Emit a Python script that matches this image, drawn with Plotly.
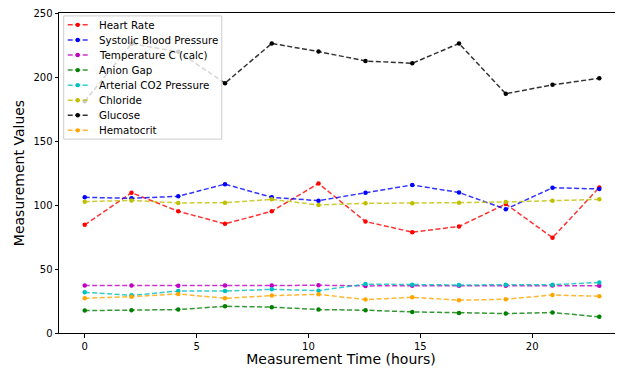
import plotly.graph_objects as go

time_hours = [0, 2.09, 4.18, 6.27, 8.36, 10.45, 12.55, 14.64, 16.73, 18.82, 20.91, 23]

heart_rate = [84.5, 109.6, 95.1, 85.3, 95.1, 116.8, 87.1, 78.8, 83.2, 100.8, 74.5, 113.7]
systolic_bp = [106.0, 105.2, 106.8, 116.3, 106.0, 103.4, 109.6, 115.6, 109.8, 96.7, 113.5, 112.5]
temperature_c = [37.2, 37.1, 37.0, 37.1, 37.1, 37.3, 36.8, 37.0, 36.9, 37.0, 37.1, 37.0]
anion_gap = [17.5, 17.8, 18.3, 20.9, 20.2, 18.3, 17.8, 16.5, 15.7, 15.2, 16.0, 12.6]
arterial_co2 = [31.8, 29.4, 32.8, 32.8, 34.1, 33.1, 38.2, 37.7, 37.5, 37.7, 37.7, 39.5]
chloride = [102.6, 103.6, 101.6, 101.8, 104.4, 100.0, 101.3, 101.3, 101.8, 102.4, 103.4, 104.4]
glucose = [181.0, 226.0, 219.8, 195.2, 226.2, 219.9, 212.5, 210.7, 226.2, 186.9, 193.9, 199.0]
hematocrit = [27.1, 28.4, 30.5, 27.1, 29.2, 30.2, 26.1, 27.9, 25.6, 26.4, 29.7, 28.7]

series_names = ["Heart Rate", "Systolic Blood Pressure", "Temperature C (calc)", "Anion Gap",
                "Arterial CO2 Pressure", "Chloride", "Glucose", "Hematocrit"]
series_values = [heart_rate, systolic_bp, temperature_c, anion_gap,
                 arterial_co2, chloride, glucose, hematocrit]
series_colors = [(255, 0, 0), (0, 0, 255), (191, 0, 191), (0, 128, 0),
                 (0, 191, 191), (191, 191, 0), (0, 0, 0), (255, 165, 0)]

font = "DejaVu Sans, sans-serif"
DASH = "5px,2.5px"

# figure geometry (page body has an 8px margin)
FIG_W, FIG_H = 615, 360
M_L, M_R, M_T, M_B = 51.3, 0, 4.6, 34.7
PLOT_W = FIG_W - M_L - M_R
PLOT_H = FIG_H - M_T - M_B


def px_x(X):
    return (X - 8 - M_L) / PLOT_W


def px_y(Y):
    return 1 - (Y - 8 - M_T) / PLOT_H


fig = go.Figure()
for name, vals, c in zip(series_names, series_values, series_colors):
    fig.add_trace(go.Scatter(
        x=time_hours, y=vals, name=name, mode="lines+markers",
        line=dict(color="rgba(%d,%d,%d,0.8)" % c, width=1.5, dash=DASH),
        marker=dict(color="rgb(%d,%d,%d)" % c, size=4.5),
        showlegend=False,
    ))

# legend drawn to match the reference's compact matplotlib legend
shapes = [dict(type="rect", xref="paper", yref="paper",
               x0=px_x(64), x1=px_x(222), y0=px_y(139), y1=px_y(15.5),
               fillcolor="rgba(255,255,255,0.8)", line=dict(color="#cccccc", width=1),
               layer="above")]
annotations = []
for i, (name, c) in enumerate(zip(series_names, series_colors)):
    yc = 24.5 + i * 15.1
    shapes.append(dict(type="line", xref="paper", yref="paper",
                       x0=px_x(68), x1=px_x(88), y0=px_y(yc), y1=px_y(yc),
                       line=dict(color="rgba(%d,%d,%d,0.8)" % c, width=1.5, dash=DASH),
                       layer="above"))
    shapes.append(dict(type="circle", xref="paper", yref="paper",
                       xsizemode="pixel", ysizemode="pixel",
                       xanchor=px_x(78), yanchor=px_y(yc),
                       x0=-2.2, x1=2.2, y0=-2.2, y1=2.2,
                       fillcolor="rgb(%d,%d,%d)" % c, line=dict(width=0),
                       layer="above"))
    annotations.append(dict(xref="paper", yref="paper", x=px_x(97), y=px_y(yc),
                            xanchor="left", yanchor="middle", showarrow=False,
                            text=name, font=dict(family=font, size=10.3, color="black")))

fig.update_layout(
    width=FIG_W, height=FIG_H,
    margin=dict(l=M_L, r=M_R, t=M_T, b=M_B, autoexpand=False),
    plot_bgcolor="white", paper_bgcolor="white",
    font=dict(family=font, size=10, color="black"),
    showlegend=False,
    shapes=shapes, annotations=annotations,
    xaxis=dict(
        range=[-1.15, 24.06], tickvals=[0, 5, 10, 15, 20],
        showgrid=False, zeroline=False, showline=True, linecolor="black", linewidth=1,
        mirror=True, ticks="outside", ticklen=3.5, tickcolor="black",
        ticklabeloverflow="allow", automargin=False,
        title=dict(text="Measurement Time (hours)", font=dict(family=font, size=14), standoff=2),
    ),
    yaxis=dict(
        range=[0, 250], tickvals=[0, 50, 100, 150, 200, 250],
        showgrid=False, zeroline=False, showline=True, linecolor="black", linewidth=1,
        ticks="outside", ticklen=3.5, tickcolor="black",
        ticklabeloverflow="allow", automargin=False,
        title=dict(text="Measurement Values", font=dict(family=font, size=14), standoff=5),
    ),
)

fig.write_html("out.html")
